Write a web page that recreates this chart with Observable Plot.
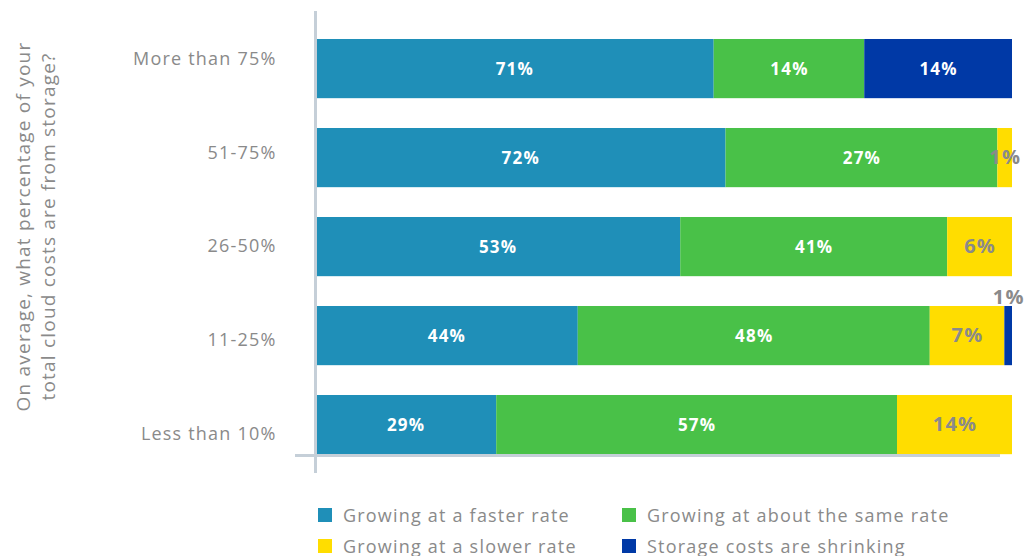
<!DOCTYPE html>
<html>
<head>
<meta charset="utf-8">
<script src="https://cdn.jsdelivr.net/npm/d3@7"></script>
<script src="https://cdn.jsdelivr.net/npm/@observablehq/plot@0.6"></script>
<style>
  html, body { margin: 0; padding: 0; background: #fff; }
  #wrap { position: relative; width: 1026px; height: 556px; overflow: hidden; }
  #legend { position: absolute; left: 318px; top: 499px; width: 708px; display: flex; flex-wrap: wrap;
            font-family: "Open Sans", sans-serif; font-size: 18px; letter-spacing: 1.2px; color: #8a8a8a; }
  .item { width: 304px; height: 31px; display: flex; align-items: center; white-space: nowrap; }
  .sw { width: 14px; height: 14px; margin-right: 11px; flex: none; }
</style>
</head>
<body>
<div id="wrap"><div id="chart"></div><div id="legend"></div></div>
<script>
const categories = ["More than 75%", "51-75%", "26-50%", "11-25%", "Less than 10%"];
const seriesNames = ["Growing at a faster rate", "Growing at about the same rate", "Growing at a slower rate", "Storage costs are shrinking"];
const seriesColors = ["#1f8fb8", "#49c148", "#ffdd00", "#0039a6"];

// drawn bar lengths (share of each bar)
const faster    = [57.2, 58.9, 52.4, 37.7, 26.0];
const same      = [21.6, 39.0, 38.3, 50.5, 57.5];
const slower    = [0,     2.1,  9.3, 10.7, 16.5];
const shrinking = [21.2,  0,    0,    1.1,  0];

// printed value labels
const fasterLabels    = ["71%", "72%", "53%", "44%", "29%"];
const sameLabels      = ["14%", "27%", "41%", "48%", "57%"];
const slowerLabels    = ["",    "1%",  "6%",  "7%",  "14%"];
const shrinkingLabels = ["14%", "",    "",    "1%",  ""];

const axisTitle = "On average, what percentage of your\ntotal cloud costs are from storage?";

const seriesValues = [faster, same, slower, shrinking];
const seriesLabels = [fasterLabels, sameLabels, slowerLabels, shrinkingLabels];
const rows = [];
categories.forEach((c, i) => {
  seriesNames.forEach((s, j) => {
    const v = seriesValues[j][i];
    if (v > 0) rows.push({category: c, series: s, value: v, label: seriesLabels[j][i], k: j});
  });
});

const stackOpts = {x: "value", y: "category", z: "series", order: seriesNames};
const mid = (categories.length - 1) / 2;
const chart = Plot.plot({
  width: 1026,
  height: 490,
  marginLeft: 315,
  marginRight: 14,
  marginTop: 11,
  marginBottom: 17,
  style: {fontFamily: "Open Sans, sans-serif", fontSize: "18px", color: "#8a8a8a", background: "#fff", letterSpacing: "1.2px"},
  x: {domain: [0, 100], axis: null},
  y: {domain: categories, paddingInner: 0.335, paddingOuter: 0.263, align: 0.598, axis: null, round: false},
  color: {domain: seriesNames, range: seriesColors},
  marks: [
    Plot.barX(rows, Plot.stackX({...stackOpts, fill: "series"})),
    Plot.ruleX([0], {stroke: "#c5cfd8", strokeWidth: 3}),
    Plot.ruleY([categories[categories.length - 1]], {x1: 0, x2: 100, stroke: "#c5cfd8", strokeWidth: 3, dy: 30.5, insetLeft: -20, insetRight: 12}),
    // category labels (spread slightly wider than the bars, as in the source)
    ...categories.map((c, i) => Plot.text([c], {y: d => d, text: d => d, frameAnchor: "left", dx: -39,
      dy: (i - mid) * 4.8 - 0.5, textAnchor: "end", fill: "#8a8a8a", fontSize: 18})),
    Plot.text(rows, Plot.stackX({...stackOpts,
      text: d => (d.k !== 2 && !(d.k === 3 && d.value < 3)) ? d.label : null,
      fill: "white", fontWeight: "bold", fontSize: 17})),
    Plot.text(rows, Plot.stackX({...stackOpts,
      text: d => d.k === 2 ? d.label : null,
      fill: "#8a8a8a", fontWeight: "bold", fontSize: 20})),
    Plot.text(rows, Plot.stackX({...stackOpts,
      text: d => (d.k === 3 && d.value < 3) ? d.label : null,
      fill: "#8a8a8a", fontWeight: "bold", fontSize: 20, dy: -38})),
    Plot.text([axisTitle], {frameAnchor: "left", rotate: -90, dx: -281, dy: -16, text: d => d, ariaLabel: "axis-title",
      fill: "#8a8a8a", fontSize: 19, lineHeight: 1.33, textAnchor: "middle"})
  ]
});
d3.select(chart).selectAll('[aria-label="axis-title"] text').style("letter-spacing", "1.6px");
document.getElementById("chart").appendChild(chart);

const legend = document.getElementById("legend");
seriesNames.forEach((s, j) => {
  const it = document.createElement("div");
  it.className = "item";
  it.innerHTML = `<span class="sw" style="background:${seriesColors[j]}"></span><span>${s}</span>`;
  legend.appendChild(it);
});
</script>
</body>
</html>
